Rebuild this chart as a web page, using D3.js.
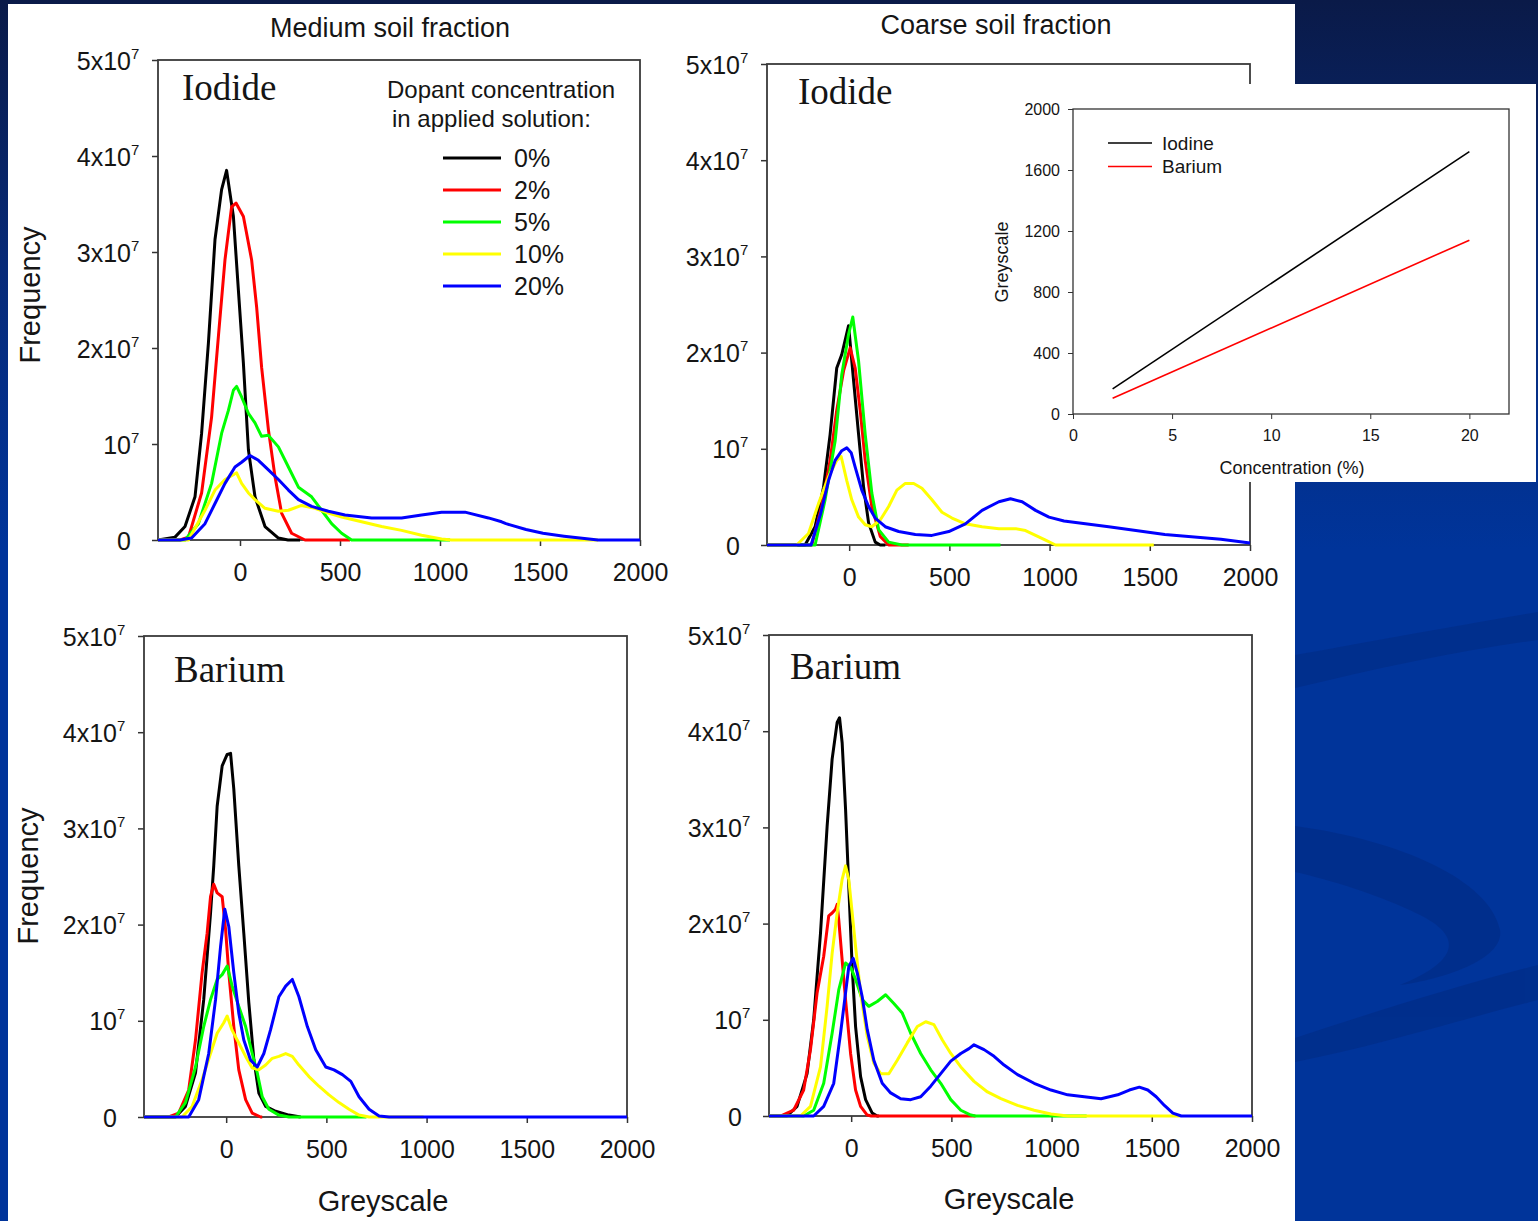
<!DOCTYPE html>
<html><head><meta charset="utf-8">
<script src="https://cdn.jsdelivr.net/npm/d3@7/dist/d3.min.js"></script>
<style>
body{margin:0;overflow:hidden;background:#ffffff;}
svg{display:block;}
text{font-family:"Liberation Sans",Arial,sans-serif;fill:#151515;}
</style>
</head><body>
<svg id="c" width="1538" height="1221"></svg>
<script>
// ---------------- DATA ----------------
// x tick values (greyscale) and y tick values (frequency, in units of 10^7)
const greyTicks = [0, 500, 1000, 1500, 2000];
const freqTicks = [0, 1, 2, 3, 4, 5];
const freqTickBase = ["0", "10", "2x10", "3x10", "4x10", "5x10"];
const freqTickExp  = ["", "7", "7", "7", "7", "7"];
const concLabels = ["0%", "2%", "5%", "10%", "20%"];
const panelTitles = ["Medium soil fraction", "Coarse soil fraction"];
const panelLabels = ["Iodide", "Iodide", "Barium", "Barium"];

// Medium soil fraction, Iodide  [greyscale, frequency x10^7]
const medIodide0  = [[-410,0],[-325,0.03],[-275,0.14],[-225,0.45],[-192,1.11],[-158,2.05],[-125,3.13],[-92,3.65],[-67,3.85],[-33,3.37],[-8,2.6],[17,1.84],[42,0.94],[75,0.45],[125,0.14],[192,0.02],[240,0],[300,0]];
const medIodide2  = [[-410,0],[-300,0],[-258,0.03],[-242,0.14],[-192,0.49],[-142,1.28],[-108,2.12],[-75,2.92],[-42,3.47],[-20,3.51],[17,3.37],[58,2.92],[83,2.43],[108,1.8],[142,1.15],[175,0.66],[208,0.28],[258,0.07],[325,0],[550,0]];
const medIodide5  = [[-410,0],[-275,0],[-208,0.17],[-142,0.59],[-92,1.11],[-58,1.35],[-33,1.56],[-17,1.6],[8,1.49],[42,1.32],[75,1.22],[108,1.08],[142,1.09],[192,0.97],[242,0.76],[292,0.55],[358,0.45],[408,0.31],[458,0.17],[508,0.07],[558,0],[1050,0]];
const medIodide10 = [[-410,0],[-258,0],[-175,0.31],[-125,0.52],[-75,0.63],[-33,0.68],[-17,0.7],[8,0.59],[42,0.49],[75,0.42],[125,0.33],[192,0.3],[242,0.31],[308,0.36],[375,0.33],[442,0.28],[508,0.24],[608,0.19],[708,0.14],[808,0.1],[908,0.05],[1008,0.01],[1058,0],[1790,0]];
const medIodide20 = [[-410,0],[-300,0],[-242,0.02],[-175,0.17],[-125,0.38],[-75,0.59],[-25,0.76],[8,0.81],[50,0.88],[92,0.83],[142,0.73],[192,0.63],[242,0.52],[292,0.42],[358,0.35],[442,0.3],[525,0.26],[658,0.23],[808,0.23],[908,0.26],[1008,0.29],[1125,0.29],[1242,0.23],[1308,0.19],[1330,0.17],[1430,0.11],[1515,0.07],[1620,0.04],[1745,0.01],[1790,0],[2000,0]];

// Coarse soil fraction, Iodide
const coaIodide0  = [[-410,0],[-220,0],[-170,0.19],[-128,0.6],[-95,1.15],[-62,1.84],[-37,1.98],[-3,2.28],[22,1.71],[47,1.15],[72,0.6],[97,0.23],[130,0.03],[155,0],[180,0]];
const coaIodide2  = [[-410,0],[-187,0],[-137,0.4],[-95,0.88],[-62,1.4],[-28,1.81],[5,2.05],[30,1.84],[55,1.4],[80,0.88],[113,0.4],[155,0.09],[197,0],[297,0]];
const coaIodide5  = [[-410,0],[-170,0],[-120,0.47],[-70,1.08],[-37,1.77],[-3,2.19],[18,2.37],[47,1.91],[80,1.15],[113,0.54],[147,0.16],[197,0.03],[263,0],[755,0]];
const coaIodide10 = [[-410,0],[-262,0],[-203,0.12],[-153,0.43],[-103,0.71],[-62,0.88],[-40,0.92],[-12,0.67],[13,0.47],[47,0.29],[80,0.21],[113,0.19],[155,0.26],[197,0.4],[238,0.57],[280,0.64],[322,0.64],[363,0.59],[413,0.47],[463,0.34],[513,0.28],[580,0.22],[663,0.19],[747,0.17],[830,0.17],[880,0.15],[930,0.1],[980,0.05],[1030,0],[1520,0]];
const coaIodide20 = [[-410,0],[-190,0],[-142,0.33],[-103,0.67],[-70,0.88],[-37,0.98],[-12,1.01],[10,0.96],[30,0.81],[63,0.57],[97,0.4],[130,0.28],[180,0.19],[247,0.14],[330,0.11],[413,0.1],[497,0.14],[580,0.22],[663,0.36],[747,0.45],[805,0.48],[863,0.45],[930,0.36],[997,0.29],[1072,0.25],[1295,0.19],[1575,0.11],[1855,0.06],[2000,0.02]];

// Medium soil fraction, Barium
const medBarium0  = [[-410,0],[-253,0],[-203,0.11],[-153,0.46],[-112,1.22],[-78,2.12],[-62,2.61],[-45,3.23],[-20,3.65],[5,3.77],[22,3.78],[38,3.41],[63,2.61],[88,1.91],[113,1.19],[138,0.6],[163,0.25],[197,0.11],[247,0.06],[313,0.02],[372,0]];
const medBarium2  = [[-410,0],[-287,0],[-237,0.04],[-187,0.28],[-153,0.8],[-120,1.5],[-95,1.91],[-78,2.29],[-62,2.42],[-45,2.33],[-20,2.29],[-3,1.95],[13,1.5],[38,0.94],[63,0.49],[97,0.18],[130,0.04],[172,0],[180,0]];
const medBarium5  = [[-410,0],[-253,0],[-203,0.15],[-153,0.52],[-112,0.94],[-78,1.22],[-45,1.43],[-20,1.48],[5,1.57],[30,1.36],[63,1.15],[97,0.94],[130,0.66],[155,0.46],[180,0.21],[213,0.08],[263,0.02],[313,0],[700,0]];
const medBarium10 = [[-410,0],[-220,0],[-170,0.11],[-120,0.39],[-78,0.66],[-45,0.87],[-12,0.98],[5,1.05],[30,0.9],[63,0.77],[97,0.63],[130,0.51],[163,0.49],[197,0.54],[230,0.61],[263,0.63],[297,0.66],[330,0.63],[363,0.54],[413,0.42],[463,0.32],[513,0.23],[563,0.15],[613,0.08],[663,0.02],[713,0],[985,0]];
const medBarium20 = [[-410,0],[-187,0],[-137,0.18],[-87,0.66],[-53,1.22],[-28,1.77],[-7,2.16],[13,1.98],[38,1.5],[63,1.08],[88,0.8],[122,0.59],[155,0.52],[188,0.66],[222,0.91],[263,1.25],[297,1.36],[330,1.43],[363,1.25],[405,0.94],[447,0.7],[497,0.52],[538,0.49],[580,0.44],[622,0.37],[663,0.21],[713,0.08],[763,0.01],[813,0],[2000,0]];

// Coarse soil fraction, Barium
const coaBarium0  = [[-410,0],[-320,0],[-270,0.1],[-220,0.44],[-187,1.0],[-153,1.9],[-120,3.01],[-95,3.71],[-70,4.09],[-58,4.14],[-45,3.88],[-28,3.19],[-12,2.39],[5,1.55],[22,0.93],[47,0.41],[72,0.17],[105,0.03],[130,0],[138,0]];
const coaBarium2  = [[-410,0],[-353,0],[-287,0.06],[-237,0.27],[-203,0.69],[-170,1.28],[-137,1.66],[-112,2.08],[-95,2.11],[-78,2.15],[-70,2.2],[-62,2.04],[-45,1.62],[-28,1.21],[-3,0.65],[22,0.27],[47,0.1],[80,0.01],[100,0],[620,0]];
const coaBarium5  = [[-410,0],[-237,0],[-187,0.06],[-137,0.34],[-95,0.86],[-62,1.31],[-28,1.59],[-3,1.55],[22,1.42],[55,1.21],[88,1.14],[130,1.19],[172,1.26],[213,1.17],[255,1.07],[297,0.86],[347,0.65],[397,0.48],[447,0.34],[497,0.17],[547,0.06],[597,0.01],[620,0],[1175,0]];
const coaBarium10 = [[-410,0],[-253,0],[-203,0.1],[-153,0.51],[-120,1.14],[-95,1.69],[-70,2.11],[-45,2.46],[-28,2.6],[-12,2.46],[5,2.11],[22,1.76],[47,1.28],[80,0.83],[113,0.55],[147,0.44],[188,0.44],[230,0.58],[280,0.76],[330,0.93],[372,0.98],[413,0.95],[455,0.79],[497,0.65],[547,0.51],[613,0.36],[680,0.25],[747,0.18],[830,0.11],[913,0.06],[997,0.02],[1080,0],[1640,0]];
const coaBarium20 = [[-410,0],[-187,0],[-137,0.1],[-87,0.34],[-53,0.86],[-28,1.28],[-12,1.55],[10,1.64],[30,1.49],[55,1.24],[80,0.9],[113,0.58],[155,0.34],[197,0.24],[247,0.18],[297,0.17],[347,0.2],[397,0.31],[447,0.44],[497,0.57],[547,0.65],[588,0.7],[613,0.74],[663,0.69],[713,0.62],[763,0.53],[830,0.43],[913,0.34],[997,0.27],[1080,0.22],[1163,0.2],[1247,0.18],[1330,0.22],[1388,0.27],[1438,0.3],[1480,0.27],[1522,0.2],[1563,0.11],[1605,0.03],[1647,0],[2000,0]];

// Inset: greyscale vs concentration
const insetConc = [2, 20];
const insetIodine = [165, 1720];
const insetBarium = [103, 1140];
const insetXTicks = [0, 5, 10, 15, 20];
const insetYTicks = [0, 400, 800, 1200, 1600, 2000];
const insetSeriesNames = ["Iodine", "Barium"];

// ---------------- STYLE / LAYOUT ----------------
const seriesColors = ["#000000", "#ff0000", "#00ff00", "#ffff00", "#0000ff"];
const svg = d3.select("#c");

// background
const defs = svg.append("defs");
const grad = defs.append("linearGradient").attr("id","bg").attr("x1",0).attr("y1",0).attr("x2",0).attr("y2",1);
grad.append("stop").attr("offset","0").attr("stop-color","#0a1a48");
grad.append("stop").attr("offset","0.22").attr("stop-color","#072a78");
grad.append("stop").attr("offset","0.45").attr("stop-color","#00349a");
grad.append("stop").attr("offset","1").attr("stop-color","#00349a");
svg.append("rect").attr("width",1538).attr("height",1221).attr("fill","url(#bg)");
// decorative swooshes
const deco = svg.append("g").attr("fill","#002d88").attr("opacity",0.75);
deco.append("path").attr("d","M1295,655 C1380,640 1460,625 1538,612 L1538,640 C1460,650 1380,668 1295,688 Z");
deco.append("path").attr("d","M1295,826 C1400,840 1490,880 1500,930 C1505,960 1440,980 1400,985 C1450,965 1470,940 1420,915 C1380,895 1330,880 1295,872 Z");
deco.append("path").attr("d","M1295,1038 C1380,1010 1460,985 1538,965 L1538,1000 C1460,1020 1380,1045 1295,1062 Z");
// white slide area
svg.append("rect").attr("x",8).attr("y",4).attr("width",1287).attr("height",1217).attr("fill","#ffffff");

const panels = [
  {left:158, right:640, top:60,  bottom:540,  label:panelLabels[0], lx:182, ly:100,
   series:[medIodide0,medIodide2,medIodide5,medIodide10,medIodide20]},
  {left:767, right:1250, top:64, bottom:545,  label:panelLabels[1], lx:798, ly:104,
   series:[coaIodide0,coaIodide2,coaIodide5,coaIodide10,coaIodide20]},
  {left:144, right:627, top:636, bottom:1117, label:panelLabels[2], lx:174, ly:682,
   series:[medBarium0,medBarium2,medBarium5,medBarium10,medBarium20]},
  {left:769, right:1252, top:635, bottom:1116, label:panelLabels[3], lx:790, ly:679,
   series:[coaBarium0,coaBarium2,coaBarium5,coaBarium10,coaBarium20]}
];

panels.forEach(p => {
  const x = d3.scaleLinear().domain([-410, 2000]).range([p.left, p.right]);
  const y = d3.scaleLinear().domain([0, 5]).range([p.bottom, p.top]);
  const g = svg.append("g");

  // x axis
  const xa = g.append("g").attr("transform",`translate(0,${p.bottom})`)
    .call(d3.axisBottom(x).tickValues(greyTicks).tickSize(6).tickPadding(17).tickFormat(d3.format("d")));
  xa.select(".domain").remove();
  xa.selectAll("line").attr("stroke","#333").attr("stroke-width",1.5);
  xa.selectAll("text").attr("font-size",25).attr("fill","#151515")
    .style("font-family","'Liberation Sans',Arial,sans-serif");

  // y axis
  const ya = g.append("g").attr("transform",`translate(${p.left},0)`)
    .call(d3.axisLeft(y).tickValues(freqTicks).tickSize(6).tickFormat(""));
  ya.select(".domain").remove();
  ya.selectAll("line").attr("stroke","#333").attr("stroke-width",1.5);
  ya.selectAll(".tick").each(function(d, i){
    const t = d3.select(this);
    t.append("text").attr("x",-27).attr("dy","0.36em").attr("text-anchor","end")
      .attr("font-size",25).text(freqTickBase[i]);
    if (freqTickExp[i]) {
      t.append("text").attr("x",-27).attr("y",-2).attr("text-anchor","start")
        .attr("font-size",15).text(freqTickExp[i]);
    }
  });

  // frame
  g.append("rect").attr("x",p.left).attr("y",p.top)
    .attr("width",p.right-p.left).attr("height",p.bottom-p.top)
    .attr("fill","none").attr("stroke","#3a3a3a").attr("stroke-width",1.8);

  // series
  const line = d3.line().x(d => x(d[0])).y(d => y(d[1]));
  p.series.forEach((s, i) => {
    g.append("path").datum(s).attr("d", line)
      .attr("fill","none").attr("stroke",seriesColors[i]).attr("stroke-width",3)
      .attr("stroke-linejoin","round");
  });

  // panel label
  g.append("text").attr("x",p.lx).attr("y",p.ly).attr("font-size",37)
    .style("font-family","'Liberation Serif','Times New Roman',serif").attr("fill","#000")
    .text(p.label);
});

// column titles
svg.append("text").attr("x",390).attr("y",37).attr("text-anchor","middle").attr("font-size",27).text(panelTitles[0]);
svg.append("text").attr("x",996).attr("y",34).attr("text-anchor","middle").attr("font-size",27).text(panelTitles[1]);

// axis titles
svg.append("text").attr("transform","translate(40,295) rotate(-90)").attr("text-anchor","middle").attr("font-size",29).text("Frequency");
svg.append("text").attr("transform","translate(38,876) rotate(-90)").attr("text-anchor","middle").attr("font-size",29).text("Frequency");
svg.append("text").attr("x",383).attr("y",1211).attr("text-anchor","middle").attr("font-size",29).text("Greyscale");
svg.append("text").attr("x",1009).attr("y",1209).attr("text-anchor","middle").attr("font-size",29).text("Greyscale");

// legend (top-left panel)
const lg = svg.append("g");
lg.append("text").attr("x",387).attr("y",98).attr("font-size",24).text("Dopant concentration");
lg.append("text").attr("x",392).attr("y",127).attr("font-size",24).text("in applied solution:");
concLabels.forEach((c, i) => {
  const yy = 158 + i * 32;
  lg.append("line").attr("x1",443).attr("x2",501).attr("y1",yy).attr("y2",yy)
    .attr("stroke",seriesColors[i]).attr("stroke-width",3);
  lg.append("text").attr("x",514).attr("y",yy).attr("dy","0.36em").attr("font-size",25).text(c);
});

// ---------------- INSET ----------------
const inset = svg.append("g");
inset.append("rect").attr("x",985).attr("y",84).attr("width",551).attr("height",398).attr("fill","#ffffff");
const xi = d3.scaleLinear().domain([0, 22]).range([1073, 1509]);
const yi = d3.scaleLinear().domain([0, 2000]).range([414, 109]);
const xia = inset.append("g").attr("transform","translate(0,414)")
  .call(d3.axisBottom(xi).tickValues(insetXTicks).tickSize(5).tickPadding(11).tickFormat(d3.format("d")));
xia.select(".domain").remove();
xia.selectAll("line").attr("stroke","#333");
xia.selectAll("text").attr("font-size",16).attr("fill","#151515").style("font-family","'Liberation Sans',Arial,sans-serif");
const yia = inset.append("g").attr("transform","translate(1073,0)")
  .call(d3.axisLeft(yi).tickValues(insetYTicks).tickSize(5).tickPadding(8).tickFormat(d3.format("d")));
yia.select(".domain").remove();
yia.selectAll("line").attr("stroke","#333");
yia.selectAll("text").attr("font-size",16).attr("fill","#151515").style("font-family","'Liberation Sans',Arial,sans-serif");
inset.append("rect").attr("x",1073).attr("y",109).attr("width",436).attr("height",305)
  .attr("fill","none").attr("stroke","#333").attr("stroke-width",1.3);
const iline = d3.line().x(d => xi(d[0])).y(d => yi(d[1]));
const insetData = [insetConc.map((c,i)=>[c, insetIodine[i]]), insetConc.map((c,i)=>[c, insetBarium[i]])];
const insetColors = ["#000000", "#ff0000"];
insetData.forEach((s, i) => {
  inset.append("path").datum(s).attr("d", iline).attr("fill","none")
    .attr("stroke",insetColors[i]).attr("stroke-width",1.6);
  const yy = 143 + i * 23.5;
  inset.append("line").attr("x1",1108).attr("x2",1152).attr("y1",yy).attr("y2",yy)
    .attr("stroke",insetColors[i]).attr("stroke-width",1.6);
  inset.append("text").attr("x",1162).attr("y",yy).attr("dy","0.36em").attr("font-size",19).text(insetSeriesNames[i]);
});
inset.append("text").attr("transform","translate(1008,262) rotate(-90)").attr("text-anchor","middle").attr("font-size",18).text("Greyscale");
inset.append("text").attr("x",1292).attr("y",474).attr("text-anchor","middle").attr("font-size",18).text("Concentration (%)");
</script>
</body></html>
